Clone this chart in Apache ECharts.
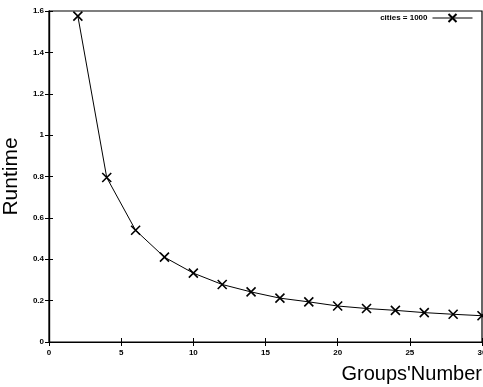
<!DOCTYPE html>
<html><head><meta charset="utf-8">
<script src="https://cdn.jsdelivr.net/npm/echarts@6/dist/echarts.min.js"></script>
<style>html,body{margin:0;padding:0;background:#fff}#c{width:483px;height:387px}</style>
</head><body><div id="c"></div>
<script>
const groups = [2,4,6,8,10,12,14,16,18,20,22,24,26,28,30];
const runtime = [1.575,0.795,0.54,0.41,0.333,0.278,0.242,0.212,0.194,0.174,0.162,0.153,0.142,0.134,0.127];
const seriesName = 'cities = 1000';
const xTicks = {min:0,max:30,interval:5};
const yTicks = {min:0,max:1.6,interval:0.2};

const chart = echarts.init(document.getElementById('c'), null, {renderer:'canvas'});
const crossPath = 'path://M0,0L10,10M10,0L0,10';
const lbl = {color:'#000',fontFamily:'Liberation Sans, Arial, sans-serif',fontSize:8,fontWeight:'bold'};
chart.setOption({
  animation:false,
  backgroundColor:'#fff',
  grid:{left:49,right:1,top:11,bottom:45,show:true,borderColor:'#000',borderWidth:1.2,containLabel:false,outerBoundsMode:'none'},
  legend:{
    data:[{name:seriesName}],
    right:5, top:8, align:'right',
    itemWidth:40, itemHeight:10, itemGap:4,
    lineStyle:{width:1,color:'#000'},
    textStyle:{color:'#000',fontFamily:'Liberation Sans, Arial, sans-serif',fontSize:8,fontWeight:'bold'}
  },
  xAxis:[{
    type:'value', min:xTicks.min, max:xTicks.max, interval:xTicks.interval,
    axisLine:{show:true,lineStyle:{color:'#000',width:1.2}},
    axisTick:{show:true,inside:true,length:4,lineStyle:{color:'#000'}},
    axisLabel:Object.assign({margin:7},lbl),
    splitLine:{show:false},
    name:"Groups'Number", nameLocation:'end', nameGap:0,
    nameTextStyle:{color:'#000',fontFamily:'Liberation Sans, Arial, sans-serif',fontSize:20,align:'right',verticalAlign:'top',padding:[22,0,0,0]}
  },{
    type:'value', position:'top', min:xTicks.min, max:xTicks.max, interval:xTicks.interval,
    axisLine:{show:true,lineStyle:{color:'#000',width:1.2}},
    axisTick:{show:true,inside:true,length:4,lineStyle:{color:'#000'}},
    axisLabel:{show:false}, splitLine:{show:false}
  }],
  yAxis:[{
    type:'value', min:yTicks.min, max:yTicks.max, interval:yTicks.interval,
    axisLine:{show:true,lineStyle:{color:'#000',width:1.2}},
    axisTick:{show:true,inside:true,length:4,lineStyle:{color:'#000'}},
    axisLabel:Object.assign({margin:5,formatter:v=>String(Math.round(v*10)/10)},lbl),
    splitLine:{show:false},
    name:'Runtime', nameLocation:'middle', nameRotate:90, nameGap:19,
    nameTextStyle:{color:'#000',fontFamily:'Liberation Sans, Arial, sans-serif',fontSize:21}
  },{
    type:'value', position:'right', min:yTicks.min, max:yTicks.max, interval:yTicks.interval,
    axisLine:{show:true,lineStyle:{color:'#000',width:1.2}},
    axisTick:{show:true,inside:true,length:4,lineStyle:{color:'#000'}},
    axisLabel:{show:false}, splitLine:{show:false}
  }],
  series:[{
    name:seriesName, type:'line',
    data:groups.map((g,i)=>[g,runtime[i]]),
    symbol:crossPath, symbolSize:9, showAllSymbol:true,
    lineStyle:{color:'#000',width:1},
    itemStyle:{color:'transparent',borderColor:'#000',borderWidth:1.6},
    clip:false
  }]
});
</script></body></html>
